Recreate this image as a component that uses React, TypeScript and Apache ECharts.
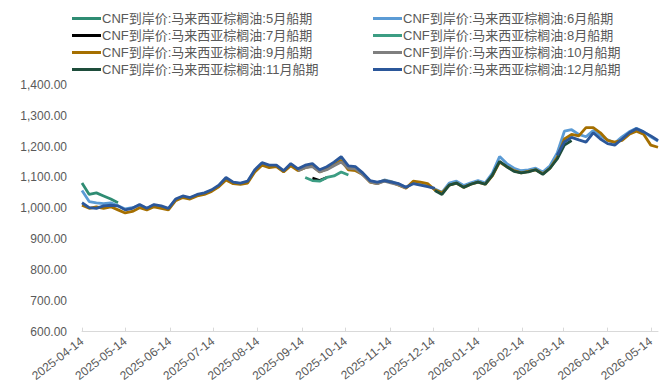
import React, { useEffect, useRef } from "react";
import * as echarts from "echarts";

const dates = [
  "2025-04-14","2025-04-19","2025-04-24","2025-04-29","2025-05-04","2025-05-09","2025-05-14","2025-05-19","2025-05-24","2025-05-29",
  "2025-06-03","2025-06-08","2025-06-13","2025-06-18","2025-06-23","2025-06-28","2025-07-03","2025-07-08","2025-07-13","2025-07-18",
  "2025-07-23","2025-07-28","2025-08-02","2025-08-07","2025-08-12","2025-08-17","2025-08-22","2025-08-27","2025-09-01","2025-09-06",
  "2025-09-11","2025-09-16","2025-09-21","2025-09-26","2025-10-01","2025-10-06","2025-10-11","2025-10-16","2025-10-21","2025-10-26",
  "2025-10-31","2025-11-05","2025-11-10","2025-11-15","2025-11-20","2025-11-25","2025-11-30","2025-12-05","2025-12-10","2025-12-15",
  "2025-12-20","2025-12-25","2025-12-30","2026-01-04","2026-01-09","2026-01-14","2026-01-19","2026-01-24","2026-01-29","2026-02-03",
  "2026-02-08","2026-02-13","2026-02-18","2026-02-23","2026-02-28","2026-03-05","2026-03-10","2026-03-15","2026-03-20","2026-03-25",
  "2026-03-30","2026-04-04","2026-04-09","2026-04-14","2026-04-19","2026-04-24","2026-04-29","2026-05-04","2026-05-09","2026-05-14",
  "2026-05-19",
];

const tickDates = [
  "2025-04-14","2025-05-14","2025-06-14","2025-07-14","2025-08-14","2025-09-14","2025-10-14",
  "2025-11-14","2025-12-14","2026-01-14","2026-02-14","2026-03-14","2026-04-14","2026-05-14",
];

const _ = null;

const may = [1082,1045,1050,1040,1030,1018];

const jun = [
  1058,1022,1018,1015,1018,1008,998,1002,1010,1000,
  1010,1005,998,1028,1038,1033,1043,1048,1058,1073,
  1097,1083,1080,1086,1122,1145,1137,1138,1120,1142,
  1125,1135,1138,1120,1130,1145,1162,1133,1130,1112,
  1088,1083,1092,1087,1078,1068,1082,1078,1073,1063,
  1052,1082,1088,1074,1083,1090,1083,1114,1168,1145,
  1130,1122,1125,1130,1118,1138,1180,1250,1255,1240,
  1232,1252,1235,1222,1212,1232,1248,1260,1248,1232,
  1218,
];

const jul = [_,_,_,_,_,_,_,_,_,_, _,_,_,_,_,_,_,_,_,_, _,_,_,_,_,_,_,_,_,_, _,_,1098,1090,1100];

const aug = [_,_,_,_,_,_,_,_,_,_, _,_,_,_,_,_,_,_,_,_, _,_,_,_,_,_,_,_,_,_, _,1100,1090,1088,1100,1105,1118,1108];

const sep = [
  1010,1000,1005,1000,1005,995,985,990,1002,995,
  1005,1000,995,1025,1035,1030,1040,1045,1055,1070,
  1092,1080,1078,1082,1118,1140,1132,1135,1118,1138,
  1122,1132,1138,1118,1128,1140,1155,1125,1122,1110,
  1085,1080,1090,1085,1075,1065,1088,1085,1080,1060,
  1050,1075,1082,1068,1078,1085,1078,1105,1150,1135,
  1122,1115,1120,1125,1112,1130,1165,1225,1240,1235,
  1262,1262,1245,1220,1215,1220,1240,1250,1240,1205,
  1198,
];

const oct = [
  _,_,_,_,_,_,_,_,_,_, _,_,_,_,_,_,_,_,_,_, _,_,_,_,_,_,_,_,_,_,
  1122,1132,1135,1118,1125,1138,1150,1130,1128,1108,
  1086,1080,1088,1082,1076,1066,
];

const nov = [
  _,_,_,_,_,_,_,_,_,_, _,_,_,_,_,_,_,_,_,_, _,_,_,_,_,_,_,_,_,_,
  _,_,_,_,_,_,_,_,_,_, _,_,_,_,_,_,_,_,_,1058,
  1045,1075,1082,1068,1078,1085,1078,1108,1152,1135,
  1120,1115,1118,1125,1110,1130,1160,1205,1220,
];

const dec = [
  1018,1002,1000,1008,1010,1008,995,1000,1012,1000,
  1012,1008,1000,1030,1040,1035,1045,1050,1060,1075,
  1100,1085,1082,1088,1125,1148,1140,1140,1122,1145,
  1128,1140,1145,1125,1135,1150,1168,1138,1135,1115,
  1090,1085,1090,1085,1080,1068,1080,1075,1070,1065,
  _,_,_,_,_,_,_,_,_,_,
  _,_,_,_,_,_,1172,1215,1230,1222,
  1215,1245,1225,1210,1205,1225,1245,1258,1248,1235,
  1220,
];

const seriesNames = [
  "CNF到岸价:马来西亚棕榈油:5月船期",
  "CNF到岸价:马来西亚棕榈油:6月船期",
  "CNF到岸价:马来西亚棕榈油:7月船期",
  "CNF到岸价:马来西亚棕榈油:8月船期",
  "CNF到岸价:马来西亚棕榈油:9月船期",
  "CNF到岸价:马来西亚棕榈油:10月船期",
  "CNF到岸价:马来西亚棕榈油:11月船期",
  "CNF到岸价:马来西亚棕榈油:12月船期",
];
const seriesValues = [may, jun, jul, aug, sep, oct, nov, dec];
const seriesColors = ["#2F8C73", "#5B9BD5", "#000000", "#3C9D83", "#A56F00", "#7F7F7F", "#1E4D3B", "#2B579A"];

const FONT = "'Liberation Sans', Arial, 'Noto Sans CJK SC', sans-serif";

function toTs(s: string) {
  const [y, m, d] = s.split("-").map(Number);
  return new Date(y, m - 1, d).getTime();
}
function fmt(v: number) {
  const d = new Date(v);
  const p = (n: number) => (n < 10 ? "0" + n : "" + n);
  return d.getFullYear() + "-" + p(d.getMonth() + 1) + "-" + p(d.getDate());
}

export default function App() {
  const ref = useRef<HTMLDivElement>(null);
  useEffect(() => {
    if (!ref.current) return;
    document.body.style.margin = "0";
    const chart = echarts.init(ref.current, undefined, { renderer: "svg" });
    const ticks = tickDates.map(toTs);
    const series = seriesNames.map((name, k) => ({
      name,
      type: "line",
      showSymbol: false,
      symbol: "none",
      connectNulls: false,
      lineStyle: { width: 2.8, color: seriesColors[k] },
      itemStyle: { color: seriesColors[k] },
      data: dates.map((d, i) => {
        const v = seriesValues[k][i];
        return [toTs(d), v === undefined || v === null ? "-" : v];
      }),
    }));
    const legendCommon = {
      orient: "vertical",
      top: 7,
      itemWidth: 29,
      itemHeight: 3,
      itemGap: 4,
      icon: "rect",
      textStyle: { fontFamily: FONT, fontSize: 13, color: "#595959", padding: [0, 0, 0, -4] },
    };
    chart.setOption({
      animation: false,
      backgroundColor: "#ffffff",
      legend: [
        { ...legendCommon, left: 67, data: [seriesNames[0], seriesNames[2], seriesNames[4], seriesNames[6]] },
        { ...legendCommon, left: 368, data: [seriesNames[1], seriesNames[3], seriesNames[5], seriesNames[7]] },
      ],
      grid: { left: 82, right: 2, top: 85, bottom: 50, containLabel: false },
      xAxis: {
        type: "value",
        min: toTs(dates[0]),
        max: toTs(dates[dates.length - 1]),
        axisLine: { show: true, lineStyle: { color: "#D9D9D9", width: 1 } },
        axisTick: { show: true, customValues: ticks, length: 4, inside: true, lineStyle: { color: "#D9D9D9" } },
        splitLine: { show: false },
        axisLabel: {
          customValues: ticks,
          formatter: (v: number) => fmt(v),
          rotate: 38,
          fontFamily: FONT,
          fontSize: 12,
          color: "#595959",
          margin: 8,
          hideOverlap: false,
        },
      },
      yAxis: {
        type: "value",
        min: 600,
        max: 1400,
        interval: 100,
        axisLine: { show: false },
        axisTick: { show: false },
        splitLine: { show: false },
        axisLabel: {
          formatter: (v: number) =>
            v.toLocaleString("en-US", { minimumFractionDigits: 2, maximumFractionDigits: 2 }),
          fontFamily: FONT,
          fontSize: 12,
          color: "#595959",
          margin: 15,
        },
      },
      series,
    });
    return () => chart.dispose();
  }, []);
  return <div ref={ref} style={{ width: 660, height: 384 }} />;
}
